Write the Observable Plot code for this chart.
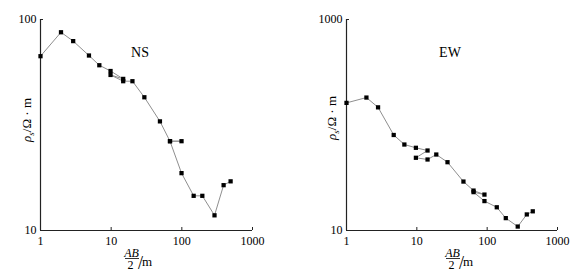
<!DOCTYPE html>
<html>
<head>
<meta charset="utf-8">
<script src="https://cdn.jsdelivr.net/npm/d3@7"></script>
<script src="https://cdn.jsdelivr.net/npm/@observablehq/plot@0.6"></script>
<style>
  html, body { margin: 0; padding: 0; background: #fff; }
  #wrap { display: flex; width: 585px; height: 279px; }
  svg { font-family: "Liberation Serif", "Times New Roman", serif; }
</style>
</head>
<body>
<div id="wrap"></div>
<script>
// ---- data ----
const nsAB = [1, 1.95, 2.9, 4.85, 6.8, 9.8, 14.8, 9.8, 14.8, 20, 29.5, 49, 68, 99, 68, 99, 147, 195, 290, 390, 490];
const nsRho = [67, 87, 79, 67.5, 60.7, 57, 52.3, 54.6, 51, 51, 42.8, 32.9, 26.5, 26.5, 26.5, 18.7, 14.6, 14.6, 11.8, 16.4, 17.1];
const ewAB = [1, 1.92, 2.81, 4.69, 6.65, 9.7, 14.2, 9.7, 14.2, 18.9, 27.3, 46, 64, 91.5, 64, 91.5, 137, 184, 272, 366, 445];
const ewRho = [162, 182, 147, 80.4, 65.3, 60.8, 57.3, 48.9, 47.1, 52.5, 44.4, 29.1, 23.9, 21.9, 23.1, 19, 16.6, 13.1, 10.9, 14.2, 15.2];
const xTicks = [1, 10, 100, 1000];
const nsYTicks = [10, 100];
const ewYTicks = [10, 1000];
const panelNames = ["NS", "EW"];

const lineColor = "#8f8f8f";
const axisColor = "#222";

function panel({ab, rho, yTicks, name, width, marginLeft, marginRight, labels}) {
  const rows = ab.map((x, i) => ({x, y: rho[i]}));
  const yDomain = [yTicks[0], yTicks[yTicks.length - 1]];
  const svg = Plot.plot({
    width, height: 279,
    marginLeft, marginRight, marginTop: 19, marginBottom: 49,
    style: {fontFamily: "Liberation Serif, serif", fontSize: "12px", background: "#fff", overflow: "visible"},
    x: {type: "log", domain: [1, 1000]},
    y: {type: "log", domain: yDomain},
    marks: [
      Plot.axisX(xTicks, {tickSize: 0, tickPadding: 6, fontSize: 12, label: null, tickFormat: d => String(d), fill: "#000"}),
      Plot.axisX(xTicks.slice(1), {tickSize: -3, label: null, stroke: axisColor, fill: "none", tickFormat: () => ""}),
      Plot.axisY(yTicks, {tickSize: 0, tickPadding: 4, fontSize: 12, label: null, tickFormat: d => String(d), fill: "#000"}),
      Plot.axisY(yTicks.slice(1), {tickSize: -3, label: null, stroke: axisColor, fill: "none", tickFormat: () => ""}),
      Plot.ruleY([yDomain[0]], {stroke: axisColor, strokeWidth: 1.2}),
      Plot.ruleX([1], {stroke: axisColor, strokeWidth: 1.2}),
      Plot.line(rows, {x: "x", y: "y", stroke: lineColor, strokeWidth: 1}),
      Plot.dot(rows, {x: "x", y: "y", symbol: "square", r: 2.4, fill: "#000", stroke: "none"})
    ]
  });
  const s = d3.select(svg);
  const L = labels;
  // panel name
  s.append("text").attr("x", L.nameX).attr("y", 57).attr("text-anchor", "middle")
    .attr("font-size", 14).attr("fill", "#000").text(name);
  // y label (rotated)
  const yl = s.append("text")
    .attr("transform", `translate(${L.yLabX},${L.yLabY}) rotate(-90)`)
    .attr("text-anchor", "middle").attr("font-size", 13).attr("fill", "#000");
  yl.append("tspan").attr("font-style", "italic").text("ρ");
  yl.append("tspan").attr("font-style", "italic").attr("font-size", 9).attr("dy", 3).text("s");
  yl.append("tspan").attr("dy", -3).text("/Ω · m");
  // x label: AB over 2, then /m
  s.append("text").attr("x", L.fracX - 0.5).attr("y", 256.5).attr("text-anchor", "middle")
    .attr("font-size", 12).attr("font-style", "italic").attr("fill", "#000").text("AB");
  s.append("line").attr("x1", L.fracX - 7).attr("x2", L.fracX + 7).attr("y1", 258.5).attr("y2", 258.5)
    .attr("stroke", "#000").attr("stroke-width", 0.8);
  s.append("text").attr("x", L.fracX - 1.5).attr("y", 269).attr("text-anchor", "middle")
    .attr("font-size", 12).attr("fill", "#000").text("2");
  s.append("text").attr("x", L.fracX + 8.5).attr("y", 268.5).attr("font-size", 18).attr("fill", "#000").text("/");
  s.append("text").attr("x", L.fracX + 15).attr("y", 266).attr("font-size", 13).attr("fill", "#000").text("m");
  return svg;
}

const wrap = document.getElementById("wrap");
wrap.appendChild(panel({ab: nsAB, rho: nsRho, yTicks: nsYTicks, name: panelNames[0],
  width: 293, marginLeft: 40, marginRight: 41,
  labels: {nameX: 140, yLabX: 31, yLabY: 120, fracX: 132}}));
wrap.appendChild(panel({ab: ewAB, rho: ewRho, yTicks: ewYTicks, name: panelNames[1],
  width: 292, marginLeft: 53, marginRight: 28,
  labels: {nameX: 157, yLabX: 43, yLabY: 118, fracX: 160}}));
</script>
</body>
</html>
